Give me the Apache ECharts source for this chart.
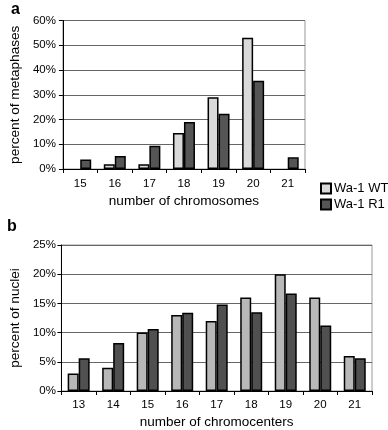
<!DOCTYPE html>
<html><head><meta charset="utf-8">
<script src="https://cdn.jsdelivr.net/npm/echarts@6/dist/echarts.min.js"></script>
<style>html,body{margin:0;padding:0;background:#fff}#c{width:388px;height:430px}</style>
</head><body><div id="c"></div>
<script>
const catsA = ['15','16','17','18','19','20','21'];
const wtA = [0, 1.9, 1.9, 14.5, 29, 53, 0];
const r1A = [3.8, 5.3, 9.4, 19, 22.3, 35.7, 4.7];
const catsB = ['13','14','15','16','17','18','19','20','21'];
const wtB = [3, 4, 10, 13, 12, 16, 20, 16, 6];
const r1B = [5.6, 8.2, 10.6, 13.4, 14.8, 13.5, 16.7, 11.2, 5.6];
const seriesNames = ['Wa-1 WT', 'Wa-1 R1'];

const font = 'Liberation Sans, Arial, sans-serif';
const chart = echarts.init(document.getElementById('c'));
function xAxis(gi, cats, name, nameSize, nameGap, labelMargin) {
  return {
    type: 'category', gridIndex: gi, data: cats, name: name,
    nameLocation: 'middle', nameGap: nameGap,
    nameTextStyle: {fontFamily: font, fontSize: nameSize, color: '#000'},
    axisLine: {lineStyle: {color: '#000', width: 1}},
    axisTick: {show: true, length: 4, lineStyle: {color: '#000'}},
    axisLabel: {fontFamily: font, fontSize: 11.5, color: '#000', margin: labelMargin}
  };
}
function yAxis(gi, max, interval, name, nameSize, nameGap, labelMargin) {
  return {
    type: 'value', gridIndex: gi, min: 0, max: max, interval: interval, name: name,
    nameLocation: 'middle', nameGap: nameGap,
    nameTextStyle: {fontFamily: font, fontSize: nameSize, color: '#000'},
    axisLine: {show: true, lineStyle: {color: '#000', width: 1}},
    axisTick: {show: true, length: 4, lineStyle: {color: '#000'}},
    axisLabel: {fontFamily: font, fontSize: 11.5, color: '#000', margin: labelMargin, formatter: '{value}%'},
    splitLine: {show: true, lineStyle: {color: '#666', width: 1}}
  };
}
function bar(name, gi, data, color) {
  return {
    name: name, type: 'bar', xAxisIndex: gi, yAxisIndex: gi,
    data: data.map(v => v === 0 ? {value: v, itemStyle: {borderWidth: 0, opacity: 0}} : v),
    barWidth: 11, barGap: '0%',
    itemStyle: {color: color, borderColor: '#000', borderWidth: 1.5},
    emphasis: {disabled: true}
  };
}
chart.setOption({
  animation: false,
  backgroundColor: '#fff',
  grid: [
    {left: 60, right: 83, top: 20.5, height: 148.5, show: true, borderColor: '#999', borderWidth: 1},
    {left: 51.5, right: 16, top: 245, height: 146.5, show: true, borderColor: '#999', borderWidth: 1}
  ],
  xAxis: [
    xAxis(0, catsA, 'number of chromosomes', 13.6, 25, 8.5),
    xAxis(1, catsB, 'number of chromocenters', 13.5, 24, 7.5)
  ],
  yAxis: [
    yAxis(0, 60, 10, 'percent of metaphases', 13.6, 33, 7),
    yAxis(1, 25, 5, 'percent of nuclei', 13.6, 33, 5.5)
  ],
  legend: {
    data: seriesNames, orient: 'vertical', left: 315, top: 177,
    itemWidth: 10, itemHeight: 10, itemGap: 3, icon: 'rect',
    textStyle: {fontFamily: font, fontSize: 13, color: '#000', padding: [0, 0, 0, -2]}
  },
  series: [
    bar(seriesNames[0], 0, wtA, '#d9d9d9'),
    bar(seriesNames[1], 0, r1A, '#555555'),
    bar(seriesNames[0], 1, wtB, '#b8b8b8'),
    bar(seriesNames[1], 1, r1B, '#505050')
  ],
  graphic: [
    {type: 'text', left: 11, top: 2, style: {text: 'a', font: 'bold 16px ' + font, fill: '#000'}},
    {type: 'text', left: 7, top: 219, style: {text: 'b', font: 'bold 16px ' + font, fill: '#000'}}
  ]
});
</script></body></html>
